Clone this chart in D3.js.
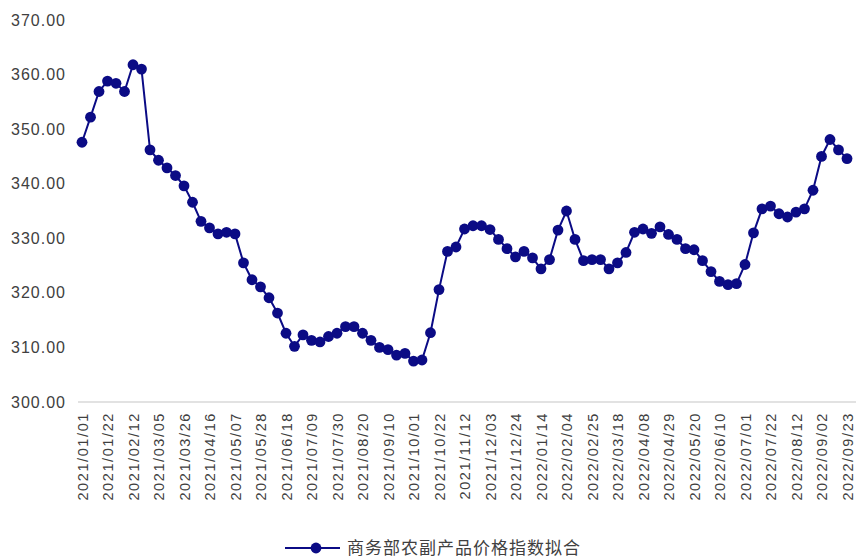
<!DOCTYPE html>
<html>
<head>
<meta charset="utf-8">
<script src="https://cdn.jsdelivr.net/npm/d3@7"></script>
<style>
  body { margin: 0; background: #fff; }
  text { font-family: "Liberation Sans", Arial, sans-serif; fill: #404040; }
</style>
</head>
<body>
<div id="chart"></div>
<script>
// Weekly series, 2021/01/01 .. 2022/09/23
const startDate = "2021-01-01";
const endDate = "2022-09-24";
const seriesName = "商务部农副产品价格指数拟合";
const values = [
    347.6, 352.2, 356.9, 358.8, 358.4, 356.9, 361.8, 361.0, 346.2, 344.3,
    342.9, 341.5, 339.6, 336.6, 333.1, 331.9, 330.8, 331.1, 330.8, 325.5,
    322.4, 321.1, 319.1, 316.3, 312.6, 310.2, 312.3, 311.3, 311.0, 312.0,
    312.6, 313.8, 313.8, 312.6, 311.3, 310.0, 309.6, 308.6, 308.9, 307.5,
    307.7, 312.7, 320.6, 327.6, 328.4, 331.7, 332.3, 332.3, 331.6, 329.8,
    328.1, 326.6, 327.6, 326.4, 324.4, 326.1, 331.5, 335.0, 329.8, 325.9,
    326.1, 326.1, 324.4, 325.5, 327.4, 331.1, 331.7, 330.9, 332.1, 330.7,
    329.8, 328.1, 327.9, 325.9, 323.9, 322.1, 321.5, 321.7, 325.2, 331.0,
    335.4, 335.9, 334.5, 333.9, 334.8, 335.4, 338.8, 345.0, 348.1, 346.2,
    344.6
];
const yTicks = [300, 310, 320, 330, 340, 350, 360, 370];

const fmt = d3.timeFormat("%Y/%m/%d");
const parse = d3.timeParse("%Y-%m-%d");
const dates = d3.timeDay.range(parse(startDate), parse(endDate), 7).map(fmt);
const data = dates.map((d, i) => ({ date: d, value: values[i] }));

const width = 856, height = 559;
const margin = { top: 20, right: 8, bottom: 157, left: 78 };

const svg = d3.select("#chart").append("svg")
    .attr("width", width)
    .attr("height", height);

const x = d3.scalePoint()
    .domain(dates)
    .range([margin.left + 4, width - margin.right - 1]);

const y = d3.scaleLinear()
    .domain([300, 370])
    .range([height - margin.bottom, margin.top]);

// y axis labels (no line)
const yAxis = svg.append("g")
    .attr("transform", `translate(${margin.left - 12},0)`)
    .call(d3.axisLeft(y).tickValues(yTicks).tickSize(0).tickFormat(d3.format(".2f")));
yAxis.select(".domain").remove();
yAxis.selectAll("text")
    .attr("x", 0)
    .style("font-size", "16px")
    .style("letter-spacing", "1px")
    .style("fill", "#404040");

// x axis: light grey baseline, every third week labelled
const xAxis = svg.append("g")
    .attr("transform", `translate(0,${y(300)})`)
    .call(d3.axisBottom(x)
        .tickValues(dates.filter((d, i) => i % 3 === 0))
        .tickSize(0));
xAxis.select(".domain")
    .attr("d", `M${margin.left},0H${width}`)
    .attr("stroke", "#d9d9d9")
    .attr("stroke-width", 1.5);
xAxis.selectAll("text")
    .attr("transform", "rotate(-90)")
    .attr("x", -10)
    .attr("y", 0)
    .attr("dy", "0.35em")
    .style("text-anchor", "end")
    .style("font-size", "14.5px")
    .style("letter-spacing", "1.6px")
    .style("fill", "#404040");

// line + markers
const color = "#0b0b85";
svg.append("path")
    .datum(data)
    .attr("fill", "none")
    .attr("stroke", color)
    .attr("stroke-width", 2)
    .attr("d", d3.line().x(d => x(d.date)).y(d => y(d.value)));

svg.selectAll("circle.pt")
    .data(data)
    .enter().append("circle")
    .attr("class", "pt")
    .attr("cx", d => x(d.date))
    .attr("cy", d => y(d.value))
    .attr("r", 5.4)
    .attr("fill", color);

// legend
const legend = svg.append("g")
    .attr("transform", "translate(285,548)");
legend.append("line")
    .attr("x1", 0).attr("x2", 55)
    .attr("stroke", color)
    .attr("stroke-width", 2);
legend.append("circle")
    .attr("cx", 31)
    .attr("r", 5.4)
    .attr("fill", color);
legend.append("text")
    .attr("x", 62)
    .attr("dy", "0.35em")
    .style("font-family", "'Noto Sans CJK SC', sans-serif")
    .style("font-size", "17px")
    .style("letter-spacing", "1px")
    .style("fill", "#404040")
    .text(seriesName);
</script>
</body>
</html>
